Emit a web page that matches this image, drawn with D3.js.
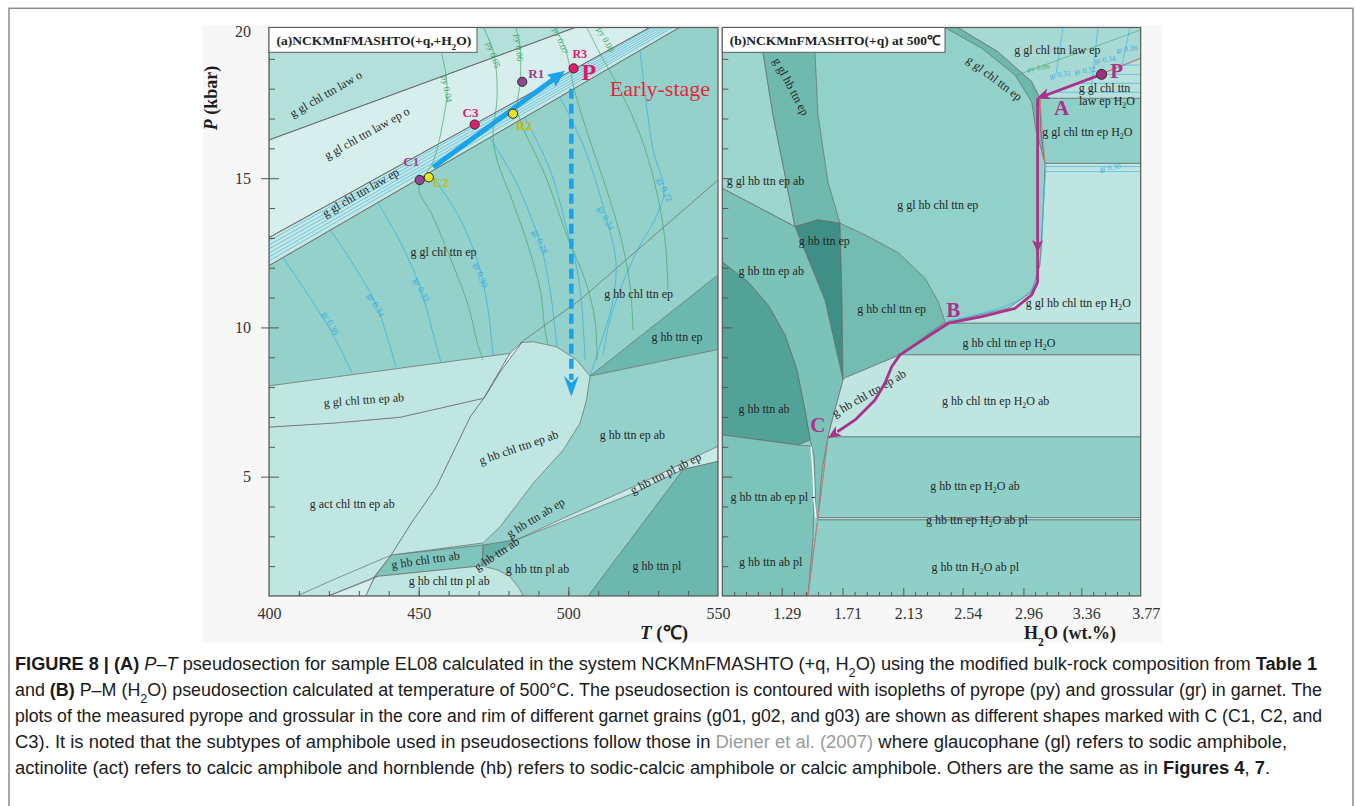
<!DOCTYPE html>
<html>
<head>
<meta charset="utf-8">
<title>Pseudosections EL08</title>
<script src="https://cdn.jsdelivr.net/npm/d3@7"></script>
<style>
  html,body{margin:0;padding:0;background:#fff;}
  svg{display:block;}
</style>
</head>
<body>
<svg id="fig" width="1355" height="806"></svg>
<script>
// ---------------- axis ticks ----------------
const tTicks = [400, 450, 500, 550];
const pTicks = [5, 10, 15, 20];
const wTicks = [1.29, 1.71, 2.13, 2.54, 2.96, 3.36, 3.77];

// ---------------- (a) P–T fields, vertices as [T °C, P kbar] ----------------
const aPanel      = [[400,1],[550,1],[550,20.05],[400,20.05]];
const aLawO       = [[400,16.28],[502.3,20.05],[400,20.05]];
const aLawEpO     = [[400,13.01],[400,16.28],[502.3,20.05],[527.2,20.05]];
const aLawEp      = [[400,12.07],[400,13.01],[527.2,20.05],[537.1,20.05]];
const aHbTtnEp    = [[507.24,8.37],[550,11.76],[550,9.26]];
const aActChl     = [[400,6.66],[422.1,6.80],[443.8,6.99],[471.8,7.63],[467.3,7.01],[456.0,4.66],[447.8,3.48],[440.8,2.37],[435.1,1.64],[432.3,1.0],[400,1.0]];
const aGlChlAb    = [[400,8.04],[480.5,9.13],[471.8,7.63],[443.8,6.99],[422.1,6.80],[400,6.66]];
const aHbChlEpAb  = [[484.4,9.49],[488.3,9.52],[496.1,9.35],[502.8,8.91],[507.24,8.37],[506.1,7.57],[503.9,6.79],[498.3,5.89],[488.3,4.78],[477.2,3.32],[471.6,2.78],[440.8,2.37],[447.8,3.48],[456.0,4.66],[467.3,7.01],[471.8,7.63],[477.2,8.51]];
const aSliver     = [[480.5,9.13],[484.4,9.49],[477.2,8.51],[471.8,7.63]];
const aHbChlAb    = [[440.8,2.37],[471.6,2.71],[471.1,2.01],[435.4,1.65]];
const aHbTtnAb    = [[471.6,2.71],[482.8,2.89],[471.1,2.01]];
const aPlAbEp     = [[482.8,2.89],[499.5,3.66],[521.7,4.66],[550,6.02],[550,5.51],[538.4,5.24],[521.7,4.44],[499.5,3.55]];
const aHbTtnPl    = [[506.6,1],[538.4,5.24],[550,5.51],[550,1]];
const aHbChlPlAb  = [[435.4,1.65],[471.1,2.01],[476.5,1.87],[480.5,1.65],[483.5,1.27],[485.0,1.0],[432.3,1.0]];
const aCorner     = [[419.8,1.0],[432.3,1.0],[435.2,1.63]];
// boundaries that are not closed fields
const aLineD      = [[483.9,9.48],[503.9,10.92],[550,14.94]];
const aExtUpper   = [[409.3,1.0],[421.4,1.54],[440.8,2.37]];
const aExtLower   = [[419.8,1.0],[433.7,1.54],[436.3,1.65]];

// ---------------- (a) isopleths ----------------
const pyIso = [
  [[454.8,20.03],[457.8,19.13],[459.5,18.02],[458.1,16.88],[454.8,15.54],[450.1,14.67],[454.5,13.77],[461.1,12.19],[466.5,10.75],[469.8,9.41],[471.5,8.91]],
  [[471.8,20.03],[475.2,19.13],[476.2,17.69],[474.8,16.45],[476.2,15.61],[481.2,14.27],[486.5,12.76],[490.6,11.25],[492.2,9.91],[493.2,9.41]],
  [[482.5,20.03],[483.9,19.36],[483.9,18.22],[482.9,17.35],[484.5,16.78],[492.2,15.11],[499.9,12.97],[505.6,11.59],[508.9,10.25],[509.6,8.91]],
  [[495.6,20.03],[498.9,19.36],[502.2,17.89],[506.6,16.45],[512.3,14.77],[517.3,13.10],[520.6,11.42],[521.6,9.91]],
  [[506.3,20.03],[510.3,19.23],[516.9,18.02],[524.0,16.45],[529.0,14.77],[532.3,12.93],[533.3,11.25]]
];
const grIso = [
  [[404.7,12.33],[413.7,10.99],[421.4,9.75],[427.7,8.47]],
  [[420.4,13.27],[427.7,12.19],[435.8,10.75],[442.4,8.68]],
  [[436.4,14.17],[444.4,12.76],[450.8,11.25],[454.5,9.91],[457.5,8.81]],
  [[453.8,15.18],[463.1,13.77],[469.8,12.19],[473.2,10.58],[474.8,9.08]],
  [[473.8,16.35],[482.2,14.94],[487.9,13.60],[490.6,12.86],[493.9,11.25],[495.6,9.91],[496.2,9.38]],
  [[485.5,17.02],[493.9,15.28],[499.9,13.13],[503.2,11.79],[504.6,10.58],[505.6,8.91]],
  [[497.2,17.72],[505.6,15.95],[512.6,13.70],[515.9,12.19],[514.6,10.75],[510.6,9.41],[507.3,8.37]],
  [[524.0,19.26],[528.3,15.95],[532.0,14.61],[529.3,13.70],[523.3,12.63],[517.9,11.42],[513.9,10.25],[511.6,9.08]]
];
const grBandStart = [12.90, 12.76, 12.63, 12.49, 12.36, 12.23];   // P at T = 400
const grBandEnd   = [528.0, 529.3, 530.6, 532.0, 533.3, 534.7];   // T at the top edge

// ---------------- (a) garnet analyses and P–T path ----------------
const garnetPts = [
  {id:'C1', T:450.35, P:14.94, kind:'g01'},
  {id:'C2', T:453.4,  P:15.03, kind:'g02'},
  {id:'C3', T:468.7,  P:16.80, kind:'g03'},
  {id:'R1', T:484.6,  P:18.23, kind:'g01'},
  {id:'R2', T:481.5,  P:17.16, kind:'g02'},
  {id:'R3', T:501.76, P:18.68, kind:'g03'}
];
const garnetLabelAt = {C1:[447.5,15.59], C2:[457.4,14.88], C3:[467.3,17.21], R1:[489.3,18.52], R2:[485.2,16.78], R3:[503.8,19.17]};
const progradePath  = [[454.9,15.37],[498.9,18.60]];
const decompression = [[501.0,18.0],[501.0,7.68]];

// ---------------- (b) P–M(H2O) fields, vertices as [H2O wt.%, P kbar] ----------------
const bPanel        = [[0.88,1],[3.77,1],[3.77,20.05],[0.88,20.05]];
const bGlHbTtnEpAb  = [[0.88,20.05],[1.14,20.05],[1.161,19.22],[1.23,17.12],[1.313,15.11],[1.382,13.38],[0.88,14.66]];
const bGlHbTtnEp    = [[1.14,20.05],[1.513,20.05],[1.52,19.22],[1.541,17.12],[1.61,14.87],[1.693,13.49],[1.541,13.6],[1.382,13.38],[1.313,15.11],[1.23,17.12],[1.161,19.22]];
const bHbTtnEp      = [[1.382,13.38],[1.541,13.6],[1.693,13.49],[1.707,10.92],[1.714,8.24],[1.589,10.92]];
const bHbTtnEpAb    = [[0.88,14.66],[1.382,13.38],[1.589,10.92],[1.714,8.24],[1.658,7.23],[1.61,6.33],[1.569,5.22],[1.541,3.61],[1.527,3.61],[1.52,4.89],[1.513,5.72],[1.5,5.99],[1.486,6.23],[1.451,7.23],[1.396,8.57],[1.313,9.75],[1.196,10.75],[1.058,11.52],[0.88,12.19]];
const bHbTtnAb      = [[0.88,12.19],[1.058,11.52],[1.196,10.75],[1.313,9.75],[1.396,8.57],[1.451,7.23],[1.486,6.23],[1.403,6.06],[1.14,6.23],[0.88,6.4]];
const bHbTtnAbEpPl  = [[0.88,6.4],[1.14,6.23],[1.403,6.06],[1.486,6.03],[1.5,5.83],[1.506,5.22],[1.513,4.22],[1.506,2.88],[1.472,1],[0.88,1]];
const bHbChlTtnEp   = [[1.693,13.49],[1.866,13.1],[2.096,12.5],[2.28,11.65],[2.372,10.86],[2.418,10.19],[2.107,9.08],[1.727,8.31],[1.714,8.24],[1.707,10.92]];
const bGlChlTtnEp   = [[2.418,20.05],[2.672,19.35],[2.902,18.46],[3.017,17.56],[3.047,16.61],[3.109,15.5],[3.081,16.61],[3.074,17.68],[3.017,18.24],[2.784,19.24],[2.508,20.05]];
const bGlHbChlH2O   = [[3.109,15.5],[3.77,15.5],[3.77,10.14],[2.418,10.14],[2.853,10.64],[3.017,11.19],[3.074,12.09],[3.095,13.77]];
const bGlChlEpH2O   = [[3.074,17.68],[3.77,17.68],[3.77,15.5],[3.109,15.5],[3.081,16.61]];
const bLawEpH2O     = [[3.074,17.68],[3.77,17.68],[3.77,19.02]];
const bLawEp        = [[2.508,20.05],[3.77,20.05],[3.77,19.02],[3.074,17.68],[3.017,18.24],[2.784,19.24]];
const bHbChlEpH2O   = [[2.418,10.14],[3.77,10.14],[3.77,9.08],[2.107,9.08]];
const bEpAbH2O      = [[2.107,9.08],[3.77,9.08],[3.77,6.33],[1.61,6.33],[1.658,7.23],[1.714,8.24],[1.727,8.31]];
const bHbTtnEpH2OAb = [[1.61,6.33],[3.77,6.33],[3.77,3.63],[1.541,3.63]];
const bPlThin       = [[1.541,3.63],[3.77,3.63],[3.77,3.55],[1.538,3.55]];
const bHbTtnH2OAbPl = [[1.538,3.55],[3.77,3.55],[3.77,1],[1.472,1]];
const bSliver       = [[1.493,6.0],[1.506,5.22],[1.515,4.22],[1.527,3.61]];
const bRedLow       = [[1.472,1],[1.541,3.63],[1.61,6.33]];
const bRedTop       = [[3.77,19.02],[3.074,17.68],[3.109,15.5]];

// ---------------- (b) isopleths ----------------
const bGrSlant = [
  [[3.233,20.05],[3.185,18.46]],
  [[3.475,20.05],[3.420,17.69]],
  [[3.696,20.05],[3.641,18.79]]
];
const bGrFlat = [
  [[3.651,18.79],[3.77,18.79]],
  [[3.489,18.48],[3.77,18.48]],
  [[3.334,18.18],[3.77,18.18]],
  [[3.178,17.88],[3.77,17.88]],
  [[3.109,15.39],[3.77,15.39]],
  [[3.109,15.22],[3.77,15.22]]
];
const bGrCurve = [[3.116,15.44],[3.095,13.77],[3.074,12.19],[3.012,11.25],[2.84,10.72],[2.439,10.22]];
const bPyLine  = [[2.902,18.43],[3.77,19.97]];

// ---------------- (b) path at 500 °C ----------------
const bPathPA = [[3.50,18.48],[3.052,17.68]];
const bPathAC = [[3.058,17.68],[3.058,12.49],[3.058,11.52],[3.017,11.09],[2.902,10.64],[2.672,10.36],[2.441,10.14],[2.107,9.08],[2.05,8.68],[2.004,8.14],[1.935,7.57],[1.797,6.9],[1.61,6.29]];

// ---------------- labels ----------------
const aLabels = [
  ['g gl chl ttn law o', 419.0, 17.82, -30],
  ['g gl chl ttn law ep o', 432.7, 16.51, -29],
  ['g gl chl ttn law ep', 430.6, 14.52, -30],
  ['g gl chl ttn ep', 458.3, 12.52, 0],
  ['g hb chl ttn ep', 523.5, 11.11, 0],
  ['g hb ttn ep', 536.3, 9.67, 0],
  ['g gl chl ttn ep ab', 431.7, 7.57, -4],
  ['g act chl ttn ep ab', 427.8, 4.08, 0],
  ['g hb chl ttn ep ab', 483.4, 5.98, -19],
  ['g hb ttn ep ab', 521.4, 6.40, 0],
  ['g hb ttn ab ep', 489.1, 3.63, -31],
  ['g hb ttn pl ab ep', 532.5, 5.11, -27],
  ['g hb chl ttn ab', 452.3, 2.21, -8],
  ['g hb ttn ab', 476.1, 2.41, -33],
  ['g hb chl ttn pl ab', 460.2, 1.51, 0],
  ['g hb ttn pl ab', 489.7, 1.89, 0],
  ['g hb ttn pl', 529.6, 2.02, 0]
];
const aIsoLabels = [
  ['py 0.04', 459.4, 17.99, 80, 'py'],
  ['py 0.05', 475.0, 19.13, 72, 'py'],
  ['py 0.06', 483.5, 19.37, 85, 'py'],
  ['py 0.07', 497.4, 19.60, 70, 'py'],
  ['py 0.08', 512.5, 19.64, 62, 'py'],
  ['gr 0.22', 532.2, 14.61, 65, 'gr'],
  ['gr 0.24', 512.5, 13.66, 62, 'gr'],
  ['gr 0.28', 490.5, 12.87, 65, 'gr'],
  ['gr 0.30', 470.7, 11.76, 70, 'gr'],
  ['gr 0.32', 450.9, 11.25, 65, 'gr'],
  ['gr 0.34', 435.7, 10.75, 60, 'gr'],
  ['gr 0.36', 420.5, 10.14, 60, 'gr']
];
const bLabels = [
  ['g gl hb ttn ep', 1.355, 18.07, 62, 'middle'],
  ['g gl hb ttn ep ab', 0.91, 14.92, 0, 'start'],
  ['g gl hb chl ttn ep', 2.368, 14.10, 0, 'middle'],
  ['g hb ttn ep', 1.585, 12.91, 0, 'middle'],
  ['g hb ttn ep ab', 1.218, 11.90, 0, 'middle'],
  ['g hb chl ttn ep', 2.050, 10.62, 0, 'middle'],
  ['g gl chl ttn ep', 2.759, 18.35, 37, 'middle'],
  ['g gl chl ttn law ep', 3.194, 19.30, 0, 'middle'],
  ['g gl chl ttn', 3.520, 18.03, 0, 'middle'],
  ['law ep H2O', 3.537, 17.60, 0, 'middle'],
  ['g gl chl ttn ep H2O', 3.401, 16.56, 0, 'middle'],
  ['g gl hb chl ttn ep H2O', 3.339, 10.81, 0, 'middle'],
  ['g hb chl ttn ep H2O', 2.860, 9.47, 0, 'middle'],
  ['g hb chl ttn ep H2O ab', 2.768, 7.55, 0, 'middle'],
  ['g hb chl ttn ep ab', 1.893, 7.79, -30, 'middle'],
  ['g hb ttn ab', 1.168, 7.26, 0, 'middle'],
  ['g hb ttn ab ep pl -', 1.229, 4.31, 0, 'middle'],
  ['g hb ttn ep H2O ab', 2.625, 4.70, 0, 'middle'],
  ['g hb ttn ep H2O ab pl', 2.639, 3.55, 0, 'middle'],
  ['g hb ttn H2O ab pl', 2.627, 1.98, 0, 'middle'],
  ['g hb ttn ab pl', 1.214, 2.15, 0, 'middle']
];
const bIsoLabels = [
  ['gr 0.36', 3.673, 19.35, 'gr'],
  ['gr 0.34', 3.523, 18.99, 'gr'],
  ['gr 0.32', 3.385, 18.63, 'gr'],
  ['gr 0.31', 3.213, 18.49, 'gr'],
  ['py 0.06', 3.063, 18.72, 'py'],
  ['gr 0.30', 3.558, 15.37, 'gr']
];
const bPointLabels = [['P', 3.604, 18.60], ['A', 3.224, 17.34], ['B', 2.476, 10.58], ['C', 1.539, 6.73]];

// ---------------- caption ----------------
const captionLines = [
  [{t:'FIGURE 8 | (A) ', b:1}, {t:'P–T', i:1}, {t:' pseudosection for sample EL08 calculated in the system NCKMnFMASHTO (+q, H'}, {t:'2', sub:1}, {t:'O) using the modified bulk-rock composition from '}, {t:'Table 1', b:1}],
  [{t:'and '}, {t:'(B)', b:1}, {t:' P–M (H'}, {t:'2', sub:1}, {t:'O) pseudosection calculated at temperature of 500°C. The pseudosection is contoured with isopleths of pyrope (py) and grossular (gr) in garnet. The'}],
  [{t:'plots of the measured pyrope and grossular in the core and rim of different garnet grains (g01, g02, and g03) are shown as different shapes marked with C (C1, C2, and'}],
  [{t:'C3). It is noted that the subtypes of amphibole used in pseudosections follow those in '}, {t:'Diener et al. (2007)', link:1}, {t:' where glaucophane (gl) refers to sodic amphibole,'}],
  [{t:'actinolite (act) refers to calcic amphibole and hornblende (hb) refers to sodic-calcic amphibole or calcic amphibole. Others are the same as in '}, {t:'Figures 4', b:1}, {t:', '}, {t:'7', b:1}, {t:'.'}]
];
const captionWidths = [1302, 1307, 1307, 1272, 1255];

// =====================================================================
const SERIF = '"Liberation Serif","Times New Roman",serif';
const SANS  = '"Liberation Sans",Arial,Helvetica,sans-serif';
const svg = d3.select('#fig');

const xT = d3.scaleLinear().domain([400, 550]).range([269, 718]);
const xW = d3.scaleLinear().domain([0.88, 3.77]).range([722.3, 1140.7]);
const yP = d3.scaleLinear().domain([1, 20.05]).range([596, 27.5]);

const fill = {
  base:'#93d1ca', lawO:'#b4e0dc', lawEpO:'#d6efed', lawEp:'#c4e8e4', dark:'#6db8ae',
  pale:'#c0e6e2', sliver:'#eef8f7', hbChlAb:'#7ec5bc', hbTtnAb:'#66b2a8', wedge:'#c8eae6',
  corner:'#d6efed',
  bBase:'#92d1ca', bTopLeft:'#9dd6cf', bBand:'#6fb9af', bDark:'#3f8f86', bMid:'#7bc2b9',
  bDarkAb:'#52a298', bLeftLow:'#7cc3ba', bHbChl:'#72bcb2', bGlChl:'#6db8ae',
  bPaleH2O:'#bfe5e1', bGlChlH2O:'#8fd0c8', bLawH2O:'#b6e1dd', bLaw:'#a7dad4',
  bHbChlH2O:'#8dcfc7', bEp:'#8ed0c8', bThin:'#b2dfda'
};
const GR = '#35ade2', PY = '#45a86a', EDGE = '#6a6a6a', MAG = '#a9338a', CYAN = '#1aa3ea';

// figure frame and background
svg.append('rect').attr('x',9).attr('y',8.3).attr('width',1344).attr('height',830)
  .attr('fill','#fff').attr('stroke','#8a8a8a').attr('stroke-width',1.5);
svg.append('rect').attr('x',203).attr('y',25).attr('width',959).attr('height',618).attr('fill','#f7f7f7');

svg.append('defs').call(d => {
  d.append('clipPath').attr('id','clipA').append('rect')
    .attr('x',xT(400)).attr('y',yP(20.05)).attr('width',xT(550)-xT(400)).attr('height',yP(1)-yP(20.05));
  d.append('clipPath').attr('id','clipB').append('rect')
    .attr('x',xW(0.88)).attr('y',yP(20.05)).attr('width',xW(3.77)-xW(0.88)).attr('height',yP(1)-yP(20.05));
});

function shape(sx, curve) {
  return d3.line().x(d => sx(d[0])).y(d => yP(d[1])).curve(curve || d3.curveLinear);
}
function field(g, sx, pts, color, edge) {
  g.append('path').attr('d', shape(sx, d3.curveLinearClosed)(pts))
    .attr('fill', color).attr('stroke', edge === false ? 'none' : EDGE).attr('stroke-width', 0.7)
    .attr('stroke-linejoin','round');
}
function curveLine(g, sx, pts, color, w, smooth) {
  g.append('path').attr('d', shape(sx, smooth ? d3.curveCatmullRom.alpha(0.5) : d3.curveLinear)(pts))
    .attr('fill','none').attr('stroke', color).attr('stroke-width', w);
}
function richText(sel, str) {
  const parts = str.split('H2O');
  parts.forEach((p, i) => {
    if (p) sel.append('tspan').text(p);
    if (i < parts.length - 1) {
      sel.append('tspan').text('H');
      sel.append('tspan').attr('baseline-shift','sub').attr('font-size','65%').text('2');
      sel.append('tspan').text('O');
    }
  });
}
function label(g, txt, x, y, rot, size, color, anchor, weight) {
  const t = g.append('text')
    .attr('transform', `translate(${x},${y}) rotate(${rot || 0})`)
    .attr('text-anchor', anchor || 'middle').attr('dominant-baseline','central')
    .attr('font-family', SERIF).attr('font-size', size).attr('fill', color || '#262626');
  if (weight) t.attr('font-weight', weight);
  richText(t, txt);
  return t;
}
function arrowHead(g, x0, y0, x1, y1, len, wid, notch, color) {
  const dx = x1 - x0, dy = y1 - y0, L = Math.hypot(dx, dy);
  const ux = dx / L, uy = dy / L, nx = -uy, ny = ux;
  const bx = x1 - ux * len, by = y1 - uy * len;
  const pts = [[x1, y1], [bx + nx * wid / 2, by + ny * wid / 2],
               [x1 - ux * len * (1 - notch), y1 - uy * len * (1 - notch)],
               [bx - nx * wid / 2, by - ny * wid / 2]];
  g.append('path').attr('d', 'M' + pts.map(p => p.join(',')).join('L') + 'Z').attr('fill', color);
}

// ======================= panel (a) =======================
const gA = svg.append('g').attr('clip-path','url(#clipA)');
field(gA, xT, aPanel, fill.base, false);
field(gA, xT, aLawO, fill.lawO);
field(gA, xT, aLawEpO, fill.lawEpO);
field(gA, xT, aLawEp, fill.lawEp);
field(gA, xT, aHbTtnEp, fill.dark);
field(gA, xT, aActChl, fill.pale);
field(gA, xT, aGlChlAb, fill.pale);
field(gA, xT, aHbChlEpAb, fill.pale);
field(gA, xT, aSliver, fill.sliver);
field(gA, xT, aHbChlAb, fill.hbChlAb);
field(gA, xT, aHbTtnAb, fill.hbTtnAb);
field(gA, xT, aPlAbEp, fill.wedge);
field(gA, xT, aHbTtnPl, fill.dark);
field(gA, xT, aHbChlPlAb, fill.pale);
field(gA, xT, aCorner, fill.corner);

// isopleths
grBandStart.forEach((p, i) => curveLine(gA, xT, [[400, p], [grBandEnd[i], 20.05]], GR, 0.6));
grIso.forEach(l => curveLine(gA, xT, l, GR, 0.7, true));
pyIso.forEach(l => curveLine(gA, xT, l, PY, 0.7, true));

// boundaries
[aLineD, aExtUpper, aExtLower].forEach(l => curveLine(gA, xT, l, EDGE, 0.7));
curveLine(gA, xT, [[400,16.28],[502.3,20.05]], EDGE, 0.7);
curveLine(gA, xT, [[400,13.01],[527.2,20.05]], EDGE, 0.7);
curveLine(gA, xT, [[400,12.07],[537.1,20.05]], EDGE, 0.7);

// field labels
aLabels.forEach(d => label(gA, d[0], xT(d[1]), yP(d[2]), d[3], 12));
aIsoLabels.forEach(d => label(gA, d[0], xT(d[1]), yP(d[2]), d[3], 9, d[4] === 'py' ? PY : GR));

// prograde arrow
{
  const x0 = xT(progradePath[0][0]), y0 = yP(progradePath[0][1]);
  const x1 = xT(progradePath[1][0]), y1 = yP(progradePath[1][1]);
  const L = Math.hypot(x1 - x0, y1 - y0), ux = (x1 - x0) / L, uy = (y1 - y0) / L;
  gA.append('line').attr('x1', x0).attr('y1', y0).attr('x2', x1 - ux * 13).attr('y2', y1 - uy * 13)
    .attr('stroke', CYAN).attr('stroke-width', 5);
  arrowHead(gA, x0, y0, x1, y1, 17, 15, 0.12, CYAN);
}
// decompression arrow
{
  const x = xT(decompression[0][0]);
  const yTop = yP(decompression[0][1]), yTip = yP(decompression[1][1]);
  gA.append('line').attr('x1', x).attr('y1', yTop).attr('x2', x).attr('y2', yTip - 17)
    .attr('stroke', CYAN).attr('stroke-width', 4.5).attr('stroke-dasharray','10,5');
  arrowHead(gA, x, yTop, x, yTip, 21, 15, 0.35, CYAN);
}
// garnet analyses
const dotFill = {g01:'#8e4a8c', g02:'#f3e51c', g03:'#e51c6e'};
const dotText = {g01:'#9b3f8f', g02:'#cdbb00', g03:'#e0186c'};
gA.selectAll('circle.gt').data(garnetPts).join('circle')
  .attr('cx', d => xT(d.T)).attr('cy', d => yP(d.P)).attr('r', 4.6)
  .attr('fill', d => dotFill[d.kind]).attr('stroke','#2b2b2b').attr('stroke-width', 1);
garnetPts.forEach(d => {
  const at = garnetLabelAt[d.id];
  label(gA, d.id, xT(at[0]), yP(at[1]), 0, d.id === 'R3' ? 12 : 13, dotText[d.kind], 'middle', 'bold');
});
label(gA, 'P', xT(506.85), yP(18.57), 0, 24, '#e0186c', 'middle', 'bold');
label(gA, 'Early-stage', xT(530.6), yP(18.02), 0, 22, '#e3283c');

// ======================= panel (b) =======================
const gB = svg.append('g').attr('clip-path','url(#clipB)');
field(gB, xW, bPanel, fill.bBase, false);
field(gB, xW, bGlHbTtnEpAb, fill.bTopLeft);
field(gB, xW, bGlHbTtnEp, fill.bBand);
field(gB, xW, bHbTtnEp, fill.bDark);
field(gB, xW, bHbTtnEpAb, fill.bMid);
field(gB, xW, bHbTtnAb, fill.bDarkAb);
field(gB, xW, bHbTtnAbEpPl, fill.bLeftLow);
field(gB, xW, bHbChlTtnEp, fill.bHbChl);
field(gB, xW, bGlChlTtnEp, fill.bGlChl);
field(gB, xW, bGlHbChlH2O, fill.bPaleH2O);
field(gB, xW, bGlChlEpH2O, fill.bGlChlH2O);
field(gB, xW, bLawEpH2O, fill.bLawH2O);
field(gB, xW, bLawEp, fill.bLaw);
field(gB, xW, bHbChlEpH2O, fill.bHbChlH2O);
field(gB, xW, bEpAbH2O, fill.bPaleH2O);
field(gB, xW, bHbTtnEpH2OAb, fill.bEp);
field(gB, xW, bPlThin, fill.bThin);
field(gB, xW, bHbTtnH2OAbPl, fill.bEp);
curveLine(gB, xW, bSliver, '#f4fbfa', 1.6, true);
curveLine(gB, xW, bRedLow, '#e07a7a', 0.8);
curveLine(gB, xW, bRedTop, '#e07a7a', 0.8);

bGrSlant.forEach(l => curveLine(gB, xW, l, GR, 0.6));
bGrFlat.forEach(l => curveLine(gB, xW, l, GR, 0.6));
curveLine(gB, xW, bGrCurve, GR, 0.7, true);
curveLine(gB, xW, bPyLine, PY, 0.6);

bLabels.forEach(d => label(gB, d[0], xW(d[1]), yP(d[2]), d[3], 12, '#262626', d[4]));
bIsoLabels.forEach(d => label(gB, d[0], xW(d[1]), yP(d[2]), -8, 7.5, d[3] === 'py' ? PY : GR));

// path P → A → B → C
{
  const pa = bPathPA.map(d => [xW(d[0]), yP(d[1])]);
  const ac = bPathAC.map(d => [xW(d[0]), yP(d[1])]);
  gB.append('path').attr('d', d3.line()(pa.slice(0,1).concat([[pa[1][0] + 9, pa[1][1] - 3]])))
    .attr('fill','none').attr('stroke', MAG).attr('stroke-width', 2.8);
  arrowHead(gB, pa[0][0], pa[0][1], pa[1][0], pa[1][1], 13, 11, 0.25, MAG);
  const n = ac.length;
  const acLine = ac.slice(0, n - 1).concat([[ac[n-1][0] + (ac[n-2][0]-ac[n-1][0]) * 0.35, ac[n-1][1] + (ac[n-2][1]-ac[n-1][1]) * 0.35]]);
  gB.append('path').attr('d', d3.line()(acLine))
    .attr('fill','none').attr('stroke', MAG).attr('stroke-width', 2.8).attr('stroke-linejoin','round');
  arrowHead(gB, ac[0][0], ac[0][1], ac[1][0], ac[1][1], 13, 11, 0.25, MAG);
  arrowHead(gB, ac[n-2][0], ac[n-2][1], ac[n-1][0], ac[n-1][1], 13, 11, 0.25, MAG);
  gB.append('circle').attr('cx', pa[0][0]).attr('cy', pa[0][1]).attr('r', 5)
    .attr('fill', '#a0307f').attr('stroke','#2b2b2b').attr('stroke-width', 1);
}
bPointLabels.forEach(d => label(gB, d[0], xW(d[1]), yP(d[2]), 0, 21, MAG, 'middle', 'bold'));

// ======================= frames, titles, axes =======================
function frame(x0, x1) {
  svg.append('rect').attr('x', x0).attr('y', yP(20.05)).attr('width', x1 - x0).attr('height', yP(1) - yP(20.05))
    .attr('fill','none').attr('stroke','#5a5a5a').attr('stroke-width', 1.2);
}
frame(xT(400), xT(550));
frame(xW(0.88), xW(3.77));

function titleBox(x0, x1, parts) {
  svg.append('rect').attr('x', x0).attr('y', yP(20.05)).attr('width', x1 - x0).attr('height', 24.8)
    .attr('fill','#fff').attr('stroke','#5a5a5a').attr('stroke-width', 1);
  const t = svg.append('text').attr('x', x0 + 7.5).attr('y', yP(20.05) + 17.5)
    .attr('font-family', SERIF).attr('font-size', 13.5).attr('font-weight','bold').attr('fill','#1e1e1e');
  richText(t, parts);
}
titleBox(xT(400), 477, '(a)NCKMnFMASHTO(+q,+H2O)');
titleBox(xW(0.88), 945, '(b)NCKMnFMASHTO(+q) at 500℃');

function styleAxis(g, size) {
  g.select('.domain').remove();
  g.selectAll('line').attr('stroke','#555').attr('stroke-width', 1);
  g.selectAll('text').attr('font-family', SERIF).attr('font-size', size || 16).attr('fill','#333');
}
// left axis of (a)
svg.append('g').attr('transform', `translate(${xT(400)},0)`)
  .call(d3.axisLeft(yP).tickValues(pTicks.filter(v => v < 20)).tickSize(8).tickPadding(10)).call(styleAxis);
svg.append('g').attr('transform', `translate(${xT(400)},0)`)
  .call(d3.axisLeft(yP).tickValues([20]).tickSize(0).tickPadding(18)).call(styleAxis)
  .selectAll('text').attr('dy','0.5em');
svg.append('g').attr('transform', `translate(${xT(400)},0)`)
  .call(d3.axisRight(yP).tickValues(d3.range(2, 20).filter(v => v % 5)).tickSize(6).tickFormat('')).call(styleAxis);
svg.append('g').attr('transform', `translate(${xT(400)},0)`)
  .call(d3.axisRight(yP).tickValues(pTicks.filter(v => v < 20)).tickSize(10).tickFormat('')).call(styleAxis);
// bottom axis of (a)
svg.append('g').attr('transform', `translate(0,${yP(1)})`)
  .call(d3.axisBottom(xT).tickValues(tTicks).tickSize(0).tickPadding(12)).call(styleAxis);
svg.append('g').attr('transform', `translate(0,${yP(1)})`)
  .call(d3.axisTop(xT).tickValues(d3.range(410, 550, 10)).tickSize(5).tickFormat('')).call(styleAxis);
svg.append('g').attr('transform', `translate(0,${yP(1)})`)
  .call(d3.axisTop(xT).tickValues([450, 500]).tickSize(9).tickFormat('')).call(styleAxis);
// axes of (b)
svg.append('g').attr('transform', `translate(${xW(0.88)},0)`)
  .call(d3.axisRight(yP).tickValues(d3.range(2, 20).filter(v => v % 5)).tickSize(6).tickFormat('')).call(styleAxis);
svg.append('g').attr('transform', `translate(${xW(0.88)},0)`)
  .call(d3.axisRight(yP).tickValues(pTicks.filter(v => v < 20)).tickSize(10).tickFormat('')).call(styleAxis);
svg.append('g').attr('transform', `translate(0,${yP(1)})`)
  .call(d3.axisBottom(xW).tickValues(wTicks).tickSize(0).tickPadding(12).tickFormat(d3.format('.2f'))).call(styleAxis)
  .selectAll('text').attr('dx', 5);
{
  const edges = [0.88].concat(wTicks);
  const minor = [];
  for (let i = 0; i < edges.length - 1; i++)
    for (let k = 1; k < 5; k++) minor.push(edges[i] + (edges[i+1] - edges[i]) * k / 5);
  svg.append('g').attr('transform', `translate(0,${yP(1)})`)
    .call(d3.axisTop(xW).tickValues(minor).tickSize(4).tickFormat('')).call(styleAxis);
  svg.append('g').attr('transform', `translate(0,${yP(1)})`)
    .call(d3.axisTop(xW).tickValues(wTicks.slice(0, -1)).tickSize(8).tickFormat('')).call(styleAxis);
}

// axis titles
{
  const t = svg.append('text').attr('transform','translate(217,98) rotate(-90)')
    .attr('text-anchor','middle').attr('font-family', SERIF).attr('font-size', 18)
    .attr('font-weight','bold').attr('fill','#1e1e1e');
  t.append('tspan').attr('font-style','italic').text('P');
  t.append('tspan').text(' (kbar)');
  const tx = svg.append('text').attr('x', 664).attr('y', 639).attr('text-anchor','middle')
    .attr('font-family', SERIF).attr('font-size', 19).attr('font-weight','bold').attr('fill','#1e1e1e');
  tx.append('tspan').attr('font-style','italic').text('T');
  tx.append('tspan').text(' (℃)');
  const tw = svg.append('text').attr('x', 1070).attr('y', 639).attr('text-anchor','middle')
    .attr('font-family', SERIF).attr('font-size', 18).attr('font-weight','bold').attr('fill','#1e1e1e');
  richText(tw, 'H2O (wt.%)');
}

// caption
captionLines.forEach((segs, i) => {
  const t = svg.append('text').attr('x', 15).attr('y', 670 + i * 26)
    .attr('font-family', SANS).attr('font-size', 17.5).attr('fill','#1a1a1a')
    .attr('textLength', captionWidths[i]).attr('lengthAdjust','spacingAndGlyphs');
  segs.forEach(s => {
    const sp = t.append('tspan').text(s.t);
    if (s.b) sp.attr('font-weight','bold');
    if (s.i) sp.attr('font-style','italic');
    if (s.link) sp.attr('fill','#9a9a9a');
    if (s.sub) sp.attr('baseline-shift','sub').attr('font-size','70%');
  });
});
</script>
</body>
</html>
